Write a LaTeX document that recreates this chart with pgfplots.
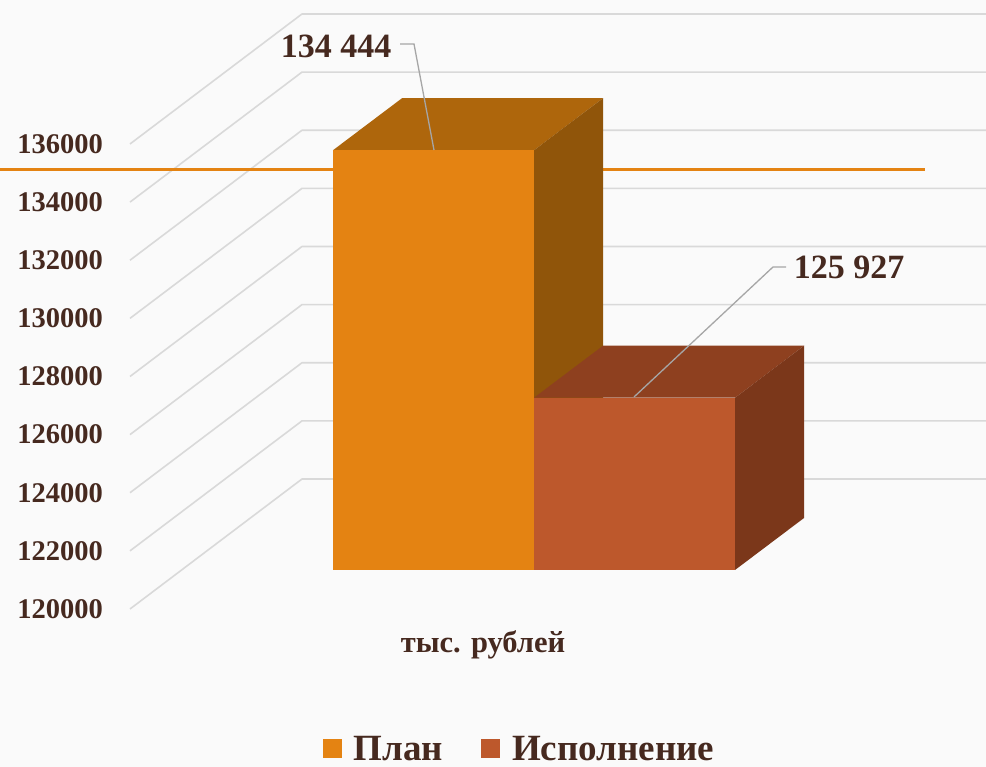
\documentclass[border=0pt]{standalone}
\usepackage{pgfplots}
\pgfplotsset{compat=1.18}
\usepackage{fontspec}
\setmainfont{Liberation Serif}
\definecolor{txt}{HTML}{46291F}
\definecolor{gridc}{HTML}{D9D9D9}
\definecolor{lead}{HTML}{A6A6A6}
\definecolor{paper}{HTML}{FAFAFA}
\definecolor{oa}{HTML}{E48312}
\definecolor{oatop}{HTML}{AE660C}
\definecolor{oaside}{HTML}{90550A}
\definecolor{ru}{HTML}{BD582C}
\definecolor{rutop}{HTML}{8E401F}
\definecolor{ruside}{HTML}{7B371A}
\newcommand{\fs}[1]{\fontsize{#1}{#1}\selectfont\bfseries}
\begin{document}
\begin{tikzpicture}[x=1pt,y=1pt]
\useasboundingbox (0,0) rectangle (986,767);
\fill[paper] (0,0) rectangle (986,767);
% wall: gridlines and value axis
\begin{axis}[at={(0,0)},anchor=south west,scale only axis,width=986pt,height=767pt,
  xmin=0,xmax=986,ymin=114564,ymax=140954,
  axis line style={draw=none},tick style={draw=none},xtick=\empty,
  ytick={120000,122000,124000,126000,128000,130000,132000,134000,136000},
  scaled y ticks=false,
  /pgf/number format/assume math mode=true,
  /pgf/number format/fixed,
  /pgf/number format/1000 sep={},
  yticklabel style={inner sep=0pt,anchor=east,xshift=103pt,text=txt,font=\fs{28.5}}]
\addplot[gridc,line width=1.6pt,line join=round] coordinates {(130,120000)(302,124473)(986,124473)};
\addplot[gridc,line width=1.6pt,line join=round] coordinates {(130,122000)(302,126473)(986,126473)};
\addplot[gridc,line width=1.6pt,line join=round] coordinates {(130,124000)(302,128473)(986,128473)};
\addplot[gridc,line width=1.6pt,line join=round] coordinates {(130,126000)(302,130473)(986,130473)};
\addplot[gridc,line width=1.6pt,line join=round] coordinates {(130,128000)(302,132473)(986,132473)};
\addplot[gridc,line width=1.6pt,line join=round] coordinates {(130,130000)(302,134473)(986,134473)};
\addplot[gridc,line width=1.6pt,line join=round] coordinates {(130,132000)(302,136473)(986,136473)};
\addplot[gridc,line width=1.6pt,line join=round] coordinates {(130,134000)(302,138473)(986,138473)};
\addplot[gridc,line width=1.6pt,line join=round] coordinates {(130,136000)(302,140473)(986,140473)};
\addplot[oa,line width=3.2pt] coordinates {(0,135122)(925,135122)};
\end{axis}
% bars
\begin{axis}[at={(0,197pt)},anchor=south west,scale only axis,width=986pt,height=570pt,
  xmin=0,xmax=986,ymin=120000,ymax=139613,clip=false,
  axis line style={draw=none},ytick=\empty,
  xtick={483},xticklabels={тыс. рублей},
  x tick style={draw=none},
  xticklabel style={anchor=center,yshift=-75pt,text=txt,font=\fs{30.5}},
  legend style={at={(0.5268,-0.314)},anchor=center,draw=none,fill=none,
    legend columns=2,font=\fs{37},text=txt,inner sep=0pt,
    /tikz/every even column/.append style={column sep=36pt},
    /tikz/every odd column/.append style={column sep=10pt}},
  legend image code/.code={\fill[#1,draw=none] (0pt,-9pt) rectangle (19pt,10pt);},
  bar shift=0pt,bar width=201pt]
\addplot[forget plot,oatop,fill=oatop,draw=none] coordinates {(333,134444)(534,134444)(603,136233)(402,136233)} --cycle;
\addplot[forget plot,oaside,fill=oaside,draw=none] coordinates {(534,120000)(603,121789)(603,136233)(534,134444)} --cycle;
\addplot[ybar,fill=oa,draw=none] coordinates {(433.5,134444)};
\addlegendentry{План}
\addplot[forget plot,rutop,fill=rutop,draw=none] coordinates {(534,125927)(735,125927)(804,127716)(603,127716)} --cycle;
\addplot[forget plot,ruside,fill=ruside,draw=none] coordinates {(735,120000)(804,121789)(804,127716)(735,125927)} --cycle;
\addplot[ybar,fill=ru,draw=none] coordinates {(634.5,125927)};
\addlegendentry{Исполнение}
\addplot[forget plot,lead,line width=1.3pt] coordinates {(400,138099)(414,138099)(434,134451)};
\addplot[forget plot,lead,line width=1.3pt] coordinates {(634,125953)(773,130426)(786,130426)};
\node[text=txt,font=\fs{34},inner sep=0pt] at (axis cs:336,138030) {134 444};
\node[text=txt,font=\fs{34},inner sep=0pt] at (axis cs:849,130400) {125 927};
\end{axis}
\end{tikzpicture}
\end{document}
